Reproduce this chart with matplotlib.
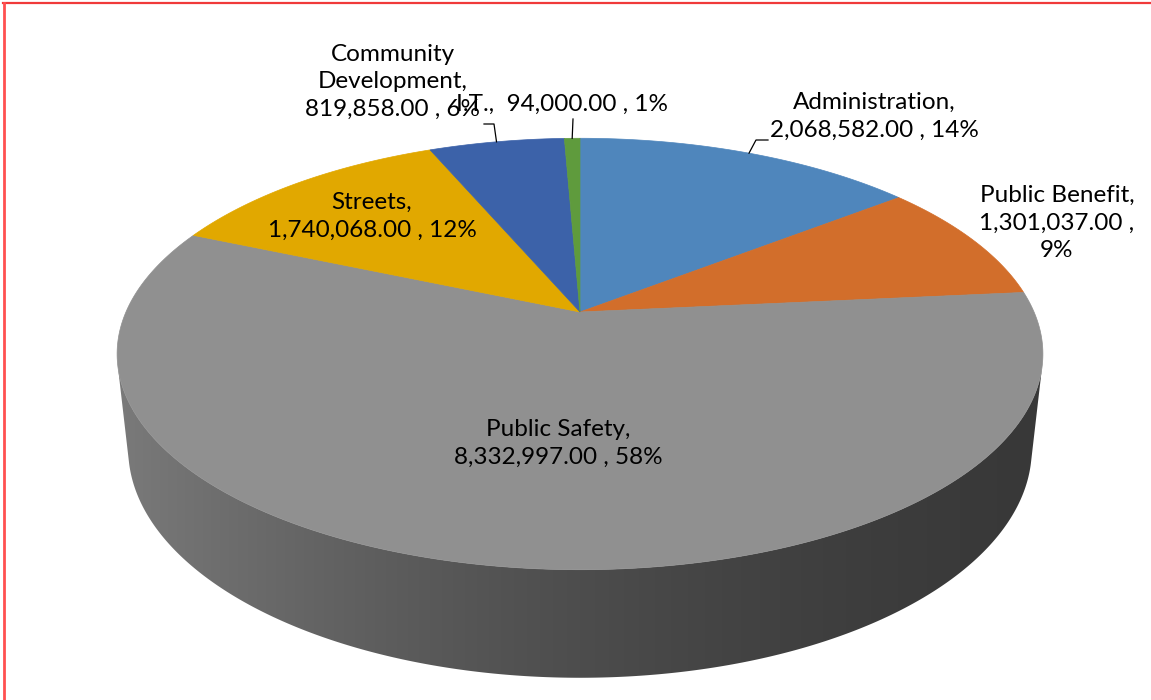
import matplotlib.pyplot as plt
import numpy as np
from matplotlib.colors import to_rgb
from matplotlib.lines import Line2D

# budget by department
depts = ["Administration", "Public Benefit", "Public Safety", "Streets",
         "Community\nDevelopment", "I.T."]
amounts = [2068582.00, 1301037.00, 8332997.00, 1740068.00, 819858.00, 94000.00]
colors = ["#4f86bc", "#d26e2b", "#909090", "#e1a800", "#3c62a9", "#5f9b3d"]

# how each label is broken into lines
name_sep = [",\n", ",\n", ",\n", ",\n", ",\n", ",  "]
pct_sep = [" , ", " ,\n", " , ", " , ", " , ", " , "]
label_xy = [(874, 116), (1057, 223), (558, 443), (372, 216), (393, 82), (562, 104)]
# leader elbows (None = no leader)
leaders = [[(756, 140), (768, 140)], None, None, None,
           [(494, 124), (484, 124)], [(573, 119)]]

# camera for the tilted disc (pixels)
XC, YC = 580.0, 312.0
FOC = 2075.0
DIST = 4.57
PHI = np.radians(27.2)
DEPTH = 0.237
HALF_W = 463.0


def project(theta, level=0.0):
    """theta clockwise from 12 o'clock, level 0 = top face, -DEPTH = bottom face"""
    X = np.sin(theta)
    Z = np.cos(theta)
    yc = level * np.cos(PHI) + Z * np.sin(PHI)
    zc = DIST - level * np.sin(PHI) + Z * np.cos(PHI)
    return XC + FOC * X / zc, YC - FOC * yc / zc


def side_factor(X):
    # darker towards the right, lighter on the left
    return (77 - 33 * X + 12 * X ** 2) / 144.0


vals = np.array(amounts)
total = vals.sum()
frac = vals / total
edges = np.concatenate([[0], np.cumsum(frac)]) * 2 * np.pi

fig = plt.figure(figsize=(11.51, 7), dpi=100)
ax = fig.add_axes([0, 0, 1, 1])

# side wall, only the part facing the viewer
cos_lim = -1.0 / (DIST * np.cos(PHI))
for i in range(len(vals)):
    t = np.linspace(edges[i], edges[i + 1], max(3, int(frac[i] * 1440)))
    t = t[np.cos(t) < cos_lim]
    if len(t) < 2:
        continue
    tx, ty = project(t)
    bx, by = project(t, -DEPTH)
    pts = list(zip(tx, ty)) + list(zip(bx[::-1], by[::-1]))
    wall = plt.Polygon(pts, closed=True, facecolor='none', edgecolor='none')
    ax.add_patch(wall)
    x0, x1 = min(tx.min(), bx.min()), max(tx.max(), bx.max())
    y0, y1 = min(ty.min(), by.min()), max(ty.max(), by.max())
    gx = np.linspace(x0, x1, 400)
    f = side_factor(np.clip((gx - XC) / HALF_W, -1, 1))
    grad = np.clip(np.array(to_rgb(colors[i]))[None, None, :] * f[None, :, None], 0, 1)
    img = ax.imshow(grad, extent=(x0, x1, y1, y0), aspect='auto',
                    interpolation='bilinear')
    img.set_clip_path(wall)

# top face
for i in range(len(vals)):
    t = np.linspace(edges[i], edges[i + 1], max(3, int(frac[i] * 720)))
    px, py = project(t)
    pts = [(XC, YC)] + list(zip(px, py))
    ax.add_patch(plt.Polygon(pts, closed=True, facecolor=colors[i],
                             edgecolor=colors[i], lw=0.5))

# data labels
for i in range(len(vals)):
    pct = int(round(frac[i] * 100))
    txt = f"{depts[i]}{name_sep[i]}{amounts[i]:,.2f}{pct_sep[i]}{pct}%"
    ax.text(label_xy[i][0], label_xy[i][1], txt, ha='center', va='center',
            multialignment='center', fontsize=17.5, family='Lato',
            color='#000000', linespacing=1.4)
    if leaders[i] is not None:
        mid = 0.5 * (edges[i] + edges[i + 1])
        sx, sy = project(mid)
        lx = [sx] + [p[0] for p in leaders[i]]
        ly = [sy] + [p[1] for p in leaders[i]]
        ax.plot(lx, ly, color='#000000', lw=0.9)

ax.set_xlim(0, 1151)
ax.set_ylim(700, 0)
ax.axis('off')

# red frame on the top and left
fig.add_artist(Line2D([3 / 1151, 1], [1 - 3 / 700, 1 - 3 / 700],
                      transform=fig.transFigure, color='#f03a3a', lw=1.6))
fig.add_artist(Line2D([3.5 / 1151, 3.5 / 1151], [0, 1 - 3 / 700],
                      transform=fig.transFigure, color='#ff5050', lw=2.0))

fig.savefig('out.png', dpi=100)
